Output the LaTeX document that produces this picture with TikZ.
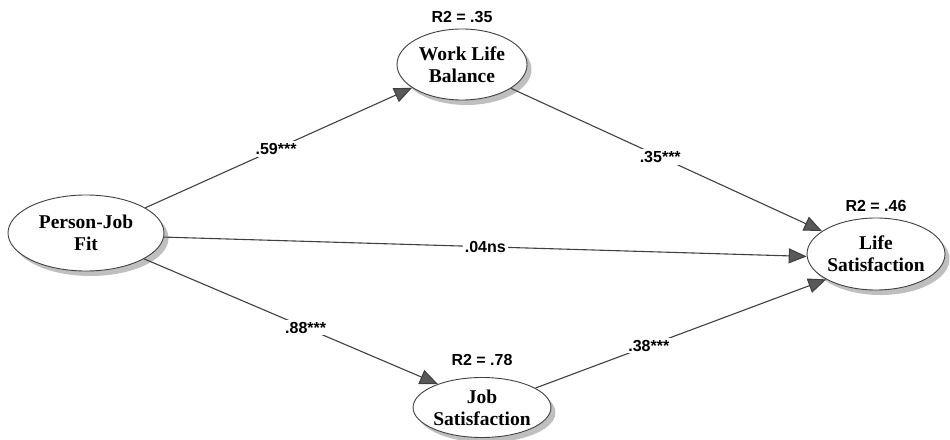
\documentclass[tikz,border=0pt]{standalone}
\usepackage{fontspec}
\setmainfont{Liberation Serif}
\setsansfont{Liberation Sans}
\usetikzlibrary{shapes.geometric,shadows,arrows.meta}
\tikzset{
  construct/.style={ellipse, draw=black!75, line width=0.9pt, fill=white, inner sep=0pt,
    align=center, font=\rmfamily\bfseries\fontsize{19.5}{22}\selectfont,
    drop shadow={shadow xshift=4.5pt, shadow yshift=-5pt, fill=black!50}},
  rlabel/.style={font=\sffamily\bfseries\fontsize{16}{18}\selectfont, inner sep=1pt},
  path/.style={draw=black!75, line width=1.1pt, -{Triangle[length=18pt,width=15pt,fill=black!65]}},
  coef/.style={fill=white, font=\sffamily\bfseries\fontsize{16}{18}\selectfont, inner sep=2pt}
}
\begin{document}
\begin{tikzpicture}[x=1pt,y=-1pt]
\useasboundingbox (0,0) rectangle (950,439);
\node[construct, minimum width=156pt, minimum height=76pt] (pj) at (86,233) {Person-Job\\Fit};
\node[construct, minimum width=130pt, minimum height=71pt] (wlb) at (462,64.5) {Work Life\\Balance};
\node[construct, minimum width=138pt, minimum height=72pt] (ls) at (876,254) {Life\\Satisfaction};
\node[construct, minimum width=134pt, minimum height=60pt] (js) at (482,407.5) {Job\\Satisfaction};
\node[rlabel] (r1) at (462,17) {R2 = .35};
\node[rlabel] (r2) at (876,206) {R2 = .46};
\node[rlabel] (r3) at (482,360) {R2 = .78};
\draw[path] (pj.23.8) -- node[coef, pos=0.49] (c1) {.59***} (wlb.205.2);
\draw[path] (wlb.-26.1) -- node[coef, pos=0.48] (c2) {.35***} (ls.157.8);
\draw[path] (pj.-3.8) -- node[coef, pos=0.5] (c3) {.04ns} (ls.182.5);
\draw[path] (pj.-24.6) -- node[coef, pos=0.55] (c4) {.88***} (js.152.5);
\draw[path] (js.20.6) -- node[coef, pos=0.39] (c5) {.38***} (ls.207.4);
\end{tikzpicture}
\end{document}
